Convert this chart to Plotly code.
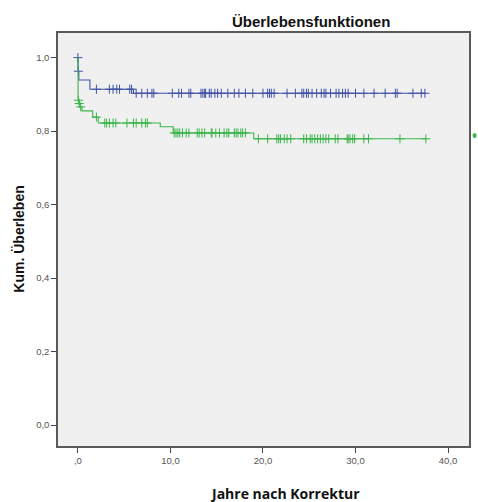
import numpy as np
import plotly.graph_objects as go

# ---- data ----
blue_step_t = [0.0, 0.02, 0.1, 1.3, 6.0]
blue_step_s = [1.0, 0.963, 0.939, 0.914, 0.903]
blue_end = 37.5
blue_cens = [0.0, 0.05, 2.0, 3.4, 3.8, 4.2, 4.5, 5.6, 5.8, 6.3, 6.9, 7.5, 8.0, 8.2,
             10.2, 10.9, 11.2, 12.0, 12.2, 13.3, 13.5, 13.7, 13.8, 14.2, 14.4, 14.8,
             15.1, 15.5, 16.2, 16.9, 17.4, 18.1, 18.9, 20.0, 20.5, 20.7, 20.9, 21.2,
             22.6, 23.5, 24.2, 24.4, 24.7, 24.9, 25.3, 25.8, 26.3, 26.6, 26.8, 27.3,
             27.9, 28.2, 28.6, 28.9, 29.2, 30.0, 30.9, 32.0, 33.2, 34.3, 34.5, 36.2,
             37.1, 37.5]

green_step_t = [0.0, 0.02, 0.12, 0.25, 0.45, 1.6, 2.2, 8.9, 10.3, 19.0]
green_step_s = [1.0, 0.884, 0.875, 0.866, 0.855, 0.838, 0.822, 0.812, 0.795, 0.779]
green_end = 37.7
green_cens = [0.05, 0.15, 0.3, 2.0, 2.9, 3.1, 3.4, 3.8, 4.1, 5.3, 6.0, 6.3, 6.9, 7.3, 7.5,
              10.4, 10.6, 10.8, 11.0, 11.3, 11.7, 12.0, 12.9, 13.1, 13.4, 13.7, 14.4,
              14.5, 14.9, 15.3, 15.8, 16.1, 16.3, 16.9, 17.1, 17.3, 17.6, 17.8, 18.1,
              19.5, 20.5, 21.5, 21.7, 21.9, 22.3, 22.6, 23.0, 24.4, 24.7, 25.1, 25.3,
              25.6, 25.9, 26.2, 26.5, 26.8, 27.1, 27.8, 28.1, 29.1, 29.2, 29.4, 29.7,
              29.9, 30.9, 31.4, 34.8, 37.6]

x_tickvals = [0, 10, 20, 30, 40]
x_ticktext = [",0", "10,0", "20,0", "30,0", "40,0"]
y_tickvals = [0.0, 0.2, 0.4, 0.6, 0.8, 1.0]
y_ticktext = ["0,0", "0,2", "0,4", "0,6", "0,8", "1,0"]

BLUE = "#4152a4"
GREEN = "#3cb54c"


def surv_at(step_t, step_s, t):
    idx = np.searchsorted(np.array(step_t), np.array(t), side="right") - 1
    return np.array(step_s)[idx]


fig = go.Figure()
for st, ss, end, cens, col in [
    (blue_step_t, blue_step_s, blue_end, blue_cens, BLUE),
    (green_step_t, green_step_s, green_end, green_cens, GREEN),
]:
    xs = list(st) + [end]
    ys = list(ss) + [ss[-1]]
    fig.add_trace(go.Scatter(x=xs, y=ys, mode="lines", line=dict(color=col, width=1.1, shape="hv"),
                             showlegend=False, hoverinfo="skip"))
    fig.add_trace(go.Scatter(x=cens, y=surv_at(st, ss, cens), mode="markers",
                             marker=dict(symbol="cross-thin", size=6.5, line=dict(color=col, width=1)),
                             showlegend=False))

axis_common = dict(showgrid=False, zeroline=False, showline=True, linecolor="#5a5a5a",
                   linewidth=1.5, mirror=True, ticks="outside", tickcolor="#444",
                   tickfont=dict(family="Liberation Sans, Arial", size=9.5, color="#555"))

fig.update_xaxes(range=[-2.15, 42.26], tickvals=x_tickvals, ticktext=x_ticktext, ticklen=5,
                 **axis_common)
fig.update_yaxes(range=[-0.057, 1.067], tickvals=y_tickvals, ticktext=y_ticktext, ticklen=5,
                 **axis_common)

fig.add_annotation(text="<b>Überlebensfunktionen</b>", xref="paper", yref="paper", x=0.615, y=1.029,
                   xanchor="center", yanchor="middle", showarrow=False,
                   font=dict(family="Liberation Sans, Arial", size=15, color="#111"))
fig.add_annotation(text="<b>Jahre nach Korrektur</b>", xref="paper", yref="paper", x=0.552, y=-0.114,
                   xanchor="center", yanchor="middle", showarrow=False,
                   font=dict(family="Open Sans, Liberation Sans", size=14, color="#111"))
fig.add_annotation(text="<b>Kum. Überleben</b>", xref="paper", yref="paper", x=-0.097, y=0.5,
                   xanchor="center", yanchor="middle", textangle=-90, showarrow=False,
                   font=dict(family="Liberation Sans, Arial", size=14, color="#111"))

# partially visible legend symbol at the right edge
fig.add_shape(type="circle", xref="paper", yref="paper", x0=1.0087, x1=1.0185,
              y0=(446 - 138) / 413, y1=(446 - 133) / 413,
              fillcolor=GREEN, line=dict(color=GREEN, width=0))

fig.update_layout(width=478, height=502, margin=dict(l=58, r=7, t=33, b=56),
                  plot_bgcolor="#f0f0f0", paper_bgcolor="white", showlegend=False)

fig.write_html("out.html")
